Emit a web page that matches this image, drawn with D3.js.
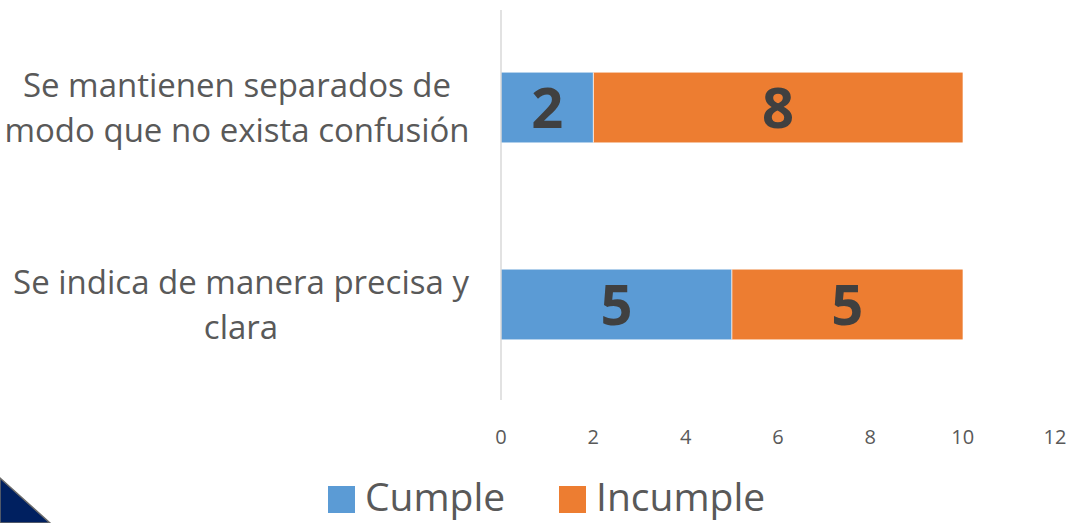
<!DOCTYPE html>
<html>
<head>
<meta charset="utf-8">
<script src="https://cdn.jsdelivr.net/npm/d3@7"></script>
<style>
  body { margin: 0; background: #fff; }
  svg { display: block; font-family: "Open Sans", sans-serif; }
</style>
</head>
<body>
<div id="chart"></div>
<script>
// chart data
const categories = [
    ["Se mantienen separados de", "modo que no exista confusión"],
    ["Se indica de manera precisa y", "clara"]
];
const cumple = [2, 5];
const incumple = [8, 5];
const seriesNames = ["Cumple", "Incumple"];
const xTicks = [0, 2, 4, 6, 8, 10, 12];

const config = {
    width: 1073,
    height: 523,
    colors: ["#5B9BD5", "#ED7D31"],
    textColor: "#595959",
    labelColor: "#404040",
    axisColor: "#d9d9d9",
    labelCenters: [237, 241]
};

const svg = d3.select("#chart").append("svg")
    .attr("width", config.width)
    .attr("height", config.height);

const x = d3.scaleLinear().domain([0, 12]).range([501, 1055]);
const y = d3.scaleBand()
    .domain(d3.range(categories.length))
    .range([11, 401])
    .paddingInner(0.645)
    .paddingOuter(0.3125);

// stacked data
const rows = categories.map((c, i) => ({i: i, Cumple: cumple[i], Incumple: incumple[i]}));
const stack = d3.stack().keys(seriesNames)(rows);

const layers = svg.append("g").selectAll("g")
    .data(stack)
    .enter().append("g")
    .attr("fill", (d, k) => config.colors[k]);

layers.selectAll("rect")
    .data(d => d)
    .enter().append("rect")
    .attr("x", d => x(d[0]))
    .attr("y", d => y(d.data.i))
    .attr("width", d => x(d[1]) - x(d[0]))
    .attr("height", y.bandwidth());

// thin separator between segments
svg.append("g").selectAll("line")
    .data(rows)
    .enter().append("line")
    .attr("x1", d => x(d.Cumple)).attr("x2", d => x(d.Cumple))
    .attr("y1", d => y(d.i)).attr("y2", d => y(d.i) + y.bandwidth())
    .attr("stroke", "#fff").attr("stroke-width", 0.8);

// value labels
layers.selectAll("text")
    .data(d => d)
    .enter().append("text")
    .attr("x", d => (x(d[0]) + x(d[1])) / 2)
    .attr("y", d => y(d.data.i) + y.bandwidth() / 2)
    .attr("dy", "0.36em")
    .attr("text-anchor", "middle")
    .style("font-size", "56px")
    .style("font-weight", "bold")
    .style("fill", config.labelColor)
    .text(d => d[1] - d[0]);

// vertical axis line
svg.append("line")
    .attr("x1", x(0)).attr("x2", x(0))
    .attr("y1", 10).attr("y2", 400)
    .attr("stroke", config.axisColor)
    .attr("stroke-width", 1.5);

// category labels
const catG = svg.append("g");
categories.forEach((lines, i) => {
    const cy = y(i) + y.bandwidth() / 2;
    const t = catG.append("text")
        .attr("text-anchor", "middle")
        .style("font-size", "33px")
        .style("fill", config.textColor);
    lines.forEach((ln, j) => {
        t.append("tspan")
            .attr("x", config.labelCenters[i])
            .attr("y", cy + (j - (lines.length - 1) / 2) * 45)
            .attr("dy", "0.36em")
            .text(ln);
    });
});

// x tick labels
svg.append("g").selectAll("text")
    .data(xTicks)
    .enter().append("text")
    .attr("x", d => x(d))
    .attr("y", 437)
    .attr("dy", "0.36em")
    .attr("text-anchor", "middle")
    .style("font-size", "20px")
    .style("fill", config.textColor)
    .text(d => d);

// legend
const legendX = [328, 559];
const lg = svg.append("g").selectAll("g")
    .data(seriesNames)
    .enter().append("g")
    .attr("transform", (d, k) => "translate(" + legendX[k] + ",486)");
lg.append("rect")
    .attr("width", 27).attr("height", 27)
    .attr("fill", (d, k) => config.colors[k]);
lg.append("text")
    .attr("x", 37)
    .attr("y", 25)
    .style("font-size", "39px")
    .style("fill", config.textColor)
    .text(d => d);

// corner decoration
svg.append("path")
    .attr("d", "M0,478 L50,523 L0,523 Z")
    .attr("fill", "#002060")
    .attr("stroke", "#6b6b6b")
    .attr("stroke-width", 1.5);
</script>
</body>
</html>
